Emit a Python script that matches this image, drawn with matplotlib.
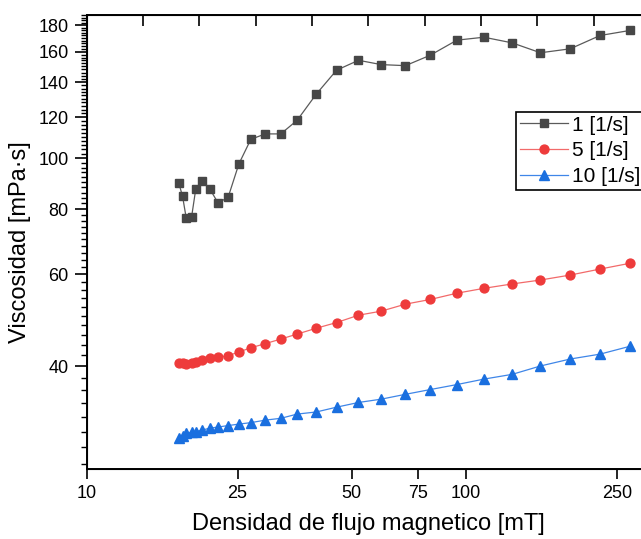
import matplotlib
matplotlib.use("Agg")
import matplotlib.pyplot as plt
from matplotlib.ticker import FixedLocator, NullFormatter, NullLocator

plt.rcParams['font.family'] = ['Liberation Sans', 'DejaVu Sans']

# magnetic flux density [mT]
campo = [17.5, 17.9, 18.3, 18.9, 19.4, 20.2, 21.1, 22.2, 23.6, 25.2, 27.1,
         29.6, 32.5, 35.9, 40.3, 45.6, 52.1, 59.8, 69.3, 80.6, 94.7, 111.6,
         132.5, 157.3, 188.5, 226.0, 271.4]

# viscosity [mPa·s] for each shear rate
visc_1 = [89.6, 84.6, 76.9, 77.1, 87.5, 90.4, 87.5, 82.2, 84.2, 97.6, 108.8,
          111.4, 111.4, 118.3, 132.7, 147.5, 154.1, 151.2, 150.5, 157.6, 168.4,
          170.6, 166.4, 159.3, 162.1, 171.9, 175.8]
visc_5 = [40.6, 40.5, 40.45, 40.6, 40.7, 41.1, 41.4, 41.6, 41.9, 42.6, 43.4,
          44.2, 45.1, 46.1, 47.3, 48.5, 50.1, 51.0, 52.6, 53.7, 55.2, 56.4,
          57.5, 58.5, 59.8, 61.4, 63.0]
visc_10 = [29.1, 29.45, 29.75, 29.9, 30.0, 30.2, 30.45, 30.6, 30.8, 31.0, 31.2,
           31.55, 31.8, 32.4, 32.7, 33.4, 34.1, 34.6, 35.35, 36.1, 36.9, 37.8,
           38.6, 40.05, 41.3, 42.2, 43.7]

etiquetas = ["1 [1/s]", "5 [1/s]", "10 [1/s]"]
x_ticks = [10, 25, 50, 75, 100, 250]
y_ticks = [40, 60, 80, 100, 120, 140, 160, 180]
y_minor = [v for v in range(26, 190, 2) if v not in y_ticks]

fig = plt.figure(figsize=(6.41, 5.39), dpi=100)
ax = fig.add_axes([86.7 / 641, 1 - 469.3 / 539, (650 - 86.7) / 641, (469.3 - 14.7) / 539])

ax.plot(campo, visc_1, color='#5a5a5a', lw=0.9, marker='s', ms=6.0,
        mfc='#474747', mec='#474747', label=etiquetas[0])
ax.plot(campo, visc_5, color='#f26a6a', lw=0.9, marker='o', ms=6.4,
        mfc='#ee3b3b', mec='#ee3b3b', label=etiquetas[1])
ax.plot(campo, visc_10, color='#3f86e8', lw=0.9, marker='^', ms=7.0,
        mfc='#1a6fdf', mec='#1a6fdf', label=etiquetas[2])

ax.set_xscale('log')
ax.set_yscale('log')
ax.set_xlim(10, 306)
ax.set_ylim(25.4, 188.4)

ax.xaxis.set_major_locator(FixedLocator(x_ticks))
ax.xaxis.set_minor_locator(NullLocator())
ax.set_xticklabels([str(t) for t in x_ticks])
ax.yaxis.set_major_locator(FixedLocator(y_ticks))
ax.yaxis.set_minor_locator(FixedLocator(y_minor))
ax.yaxis.set_minor_formatter(NullFormatter())
ax.set_yticklabels([str(t) for t in y_ticks])

ax.tick_params(axis='x', which='major', direction='out', length=7, width=1.2,
               labelsize=13, pad=4.5)
ax.tick_params(axis='y', which='major', direction='out', length=9, width=1.2,
               labelsize=13, pad=4)
ax.tick_params(axis='y', which='minor', direction='out', length=4.5, width=1.0)

for s in ax.spines.values():
    s.set_linewidth(1.4)

# top axis with evenly spaced inward ticks
top = ax.twiny()
top.set_xlim(0, 10)
top.set_xticks(range(0, 11))
top.tick_params(axis='x', direction='in', length=8, width=1.2, labeltop=False)

ax.set_xlabel("Densidad de flujo magnetico [mT]", fontsize=17, labelpad=8)
ax.set_ylabel("Viscosidad [mPa·s]", fontsize=17, labelpad=5)

leg = ax.legend(loc='upper left', bbox_to_anchor=(0.762, 0.787), borderaxespad=0,
                fontsize=15, frameon=True, fancybox=False, edgecolor='black',
                framealpha=1, handlelength=2.3, handletextpad=0.2,
                borderpad=0.2, labelspacing=0.32)
leg.get_frame().set_linewidth(1.2)

fig.savefig("out.png", dpi=100)
